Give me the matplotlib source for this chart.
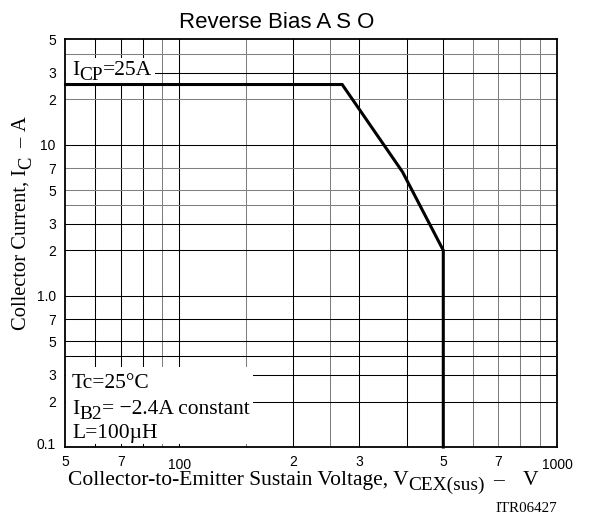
import matplotlib
matplotlib.use("Agg")
import matplotlib.pyplot as plt
from matplotlib.patches import Rectangle
from matplotlib.transforms import ScaledTranslation

SERIF = 'Liberation Serif'
SANS = 'Liberation Sans'

# boundary of the reverse bias safe operating area
voltage = [50, 270, 390, 500, 500]
current = [25, 25, 6.6, 2.0, 0.1]

# chart grid lines (dark / light)
vgrid_dark = [60, 70, 80, 100, 200, 300, 400, 500]
vgrid_light = [90, 150, 250, 600, 700, 800, 900]
hgrid_dark = [30, 10, 3, 2, 1, 0.7, 0.5, 0.4, 0.3, 0.2]
hgrid_light = [40, 20, 7, 5, 4]

xticks = [50, 70, 100, 200, 300, 500, 700, 1000]
xlabels = ['5', '7', '100', '2', '3', '5', '7', '1000']
yticks = [0.1, 0.2, 0.3, 0.5, 0.7, 1, 2, 3, 5, 7, 10, 20, 30, 50]
ylabels = ['0.1', '2', '3', '5', '7', '1.0', '2', '3', '5', '7', '10', '2', '3', '5']

W, H = 589, 516
fig = plt.figure(figsize=(W / 100, H / 100), dpi=100)
ax = fig.add_axes([0.1112, 0.1337, 0.8345, 0.7907])
ax.set_xscale('log')
ax.set_yscale('log')
ax.set_xlim(50, 1000)
ax.set_ylim(0.1, 50)

for v in vgrid_dark:
    ax.axvline(v, color='black', lw=0.75, zorder=1)
for v in vgrid_light:
    ax.axvline(v, color='#808080', lw=0.75, zorder=1)
for i in hgrid_dark:
    ax.axhline(i, color='black', lw=0.75, zorder=1)
for i in hgrid_light:
    ax.axhline(i, color='#808080', lw=0.75, zorder=1)

ax.plot(voltage, current, color='black', lw=2.2, solid_joinstyle='miter', zorder=3, clip_on=False)

for s in ax.spines.values():
    s.set_linewidth(1.3)
    s.set_zorder(5)

ax.minorticks_off()
ax.set_xticks(xticks)
ax.set_xticklabels(xlabels, fontfamily=SANS, fontsize=10)
ax.set_yticks(yticks)
ax.set_yticklabels(ylabels, fontfamily=SANS, fontsize=10)
ax.tick_params(axis='both', length=0)
ax.tick_params(axis='x', pad=5.5)
ax.tick_params(axis='y', pad=7)

# 100 and 1000 sit a bit lower than the rest
down = ScaledTranslation(0, -3.5 / 100, fig.dpi_scale_trans)
for lab in ax.get_xticklabels():
    if lab.get_text() in ('100', '1000'):
        lab.set_transform(lab.get_transform() + down)
up = ScaledTranslation(0, 4 / 100, fig.dpi_scale_trans)
ax.get_yticklabels()[0].set_transform(ax.get_yticklabels()[0].get_transform() + up)

# white label areas
ax.add_patch(Rectangle((0.002, 0.892), 0.181, 0.061, transform=ax.transAxes,
                       facecolor='white', edgecolor='none', zorder=2))
ax.add_patch(Rectangle((0.002, 0.008), 0.38, 0.189, transform=ax.transAxes,
                       facecolor='white', edgecolor='none', zorder=2))

renderer = fig.canvas.get_renderer()


def rich(x, y, parts, size, rot=0):
    # parts: (text, is_subscript, gap before in px); x, y = baseline start in px from top-left
    x, y = x, H - y
    for s, sub, gap in parts:
        fs = size * 0.9 if sub else size
        off = size * 0.25 * 100 / 72 if sub else 0
        if rot == 0:
            x += gap
            t = fig.text(x, y - off, s, transform=None, fontfamily=SERIF, fontsize=fs,
                         ha='left', va='baseline', zorder=6)
            x = t.get_window_extent(renderer).x1
        else:
            y += gap
            t = fig.text(x + off, y, s, transform=None, fontfamily=SERIF, fontsize=fs,
                         ha='left', va='baseline', rotation=90, rotation_mode='anchor', zorder=6)
            y = t.get_window_extent(renderer).y1


size = 15.5
rich(72, 75, [('I', False, 0), ('CP', True, 0), ('=25A', False, 0)], size)
rich(72, 388, [('Tc=25°C', False, 0)], size)
rich(72, 414, [('I', False, 0), ('B2', True, 0), ('= −2.4A constant', False, 0)], size)
rich(72, 438, [('L=100µH', False, 0)], size)
rich(68, 485, [('Collector-to-Emitter Sustain Voltage, V', False, 0), ('CEX(sus)', True, 0),
               ('–', False, 8), ('V', False, 19)], size)
rich(26, 330, [('Collector Current, I', False, 0), ('C', True, 0),
               ('–', False, 9), ('A', False, 6)], 14.8, rot=90)

fig.text(276.5 / W, 1 - 28 / H, 'Reverse Bias A S O', fontfamily=SANS,
         fontsize=16, ha='center', va='baseline')
fig.text(556.7 / W, 1 - 511.7 / H, 'ITR06427', fontfamily=SERIF, fontsize=10.8,
         ha='right', va='baseline')

fig.savefig('out.png', dpi=100)
